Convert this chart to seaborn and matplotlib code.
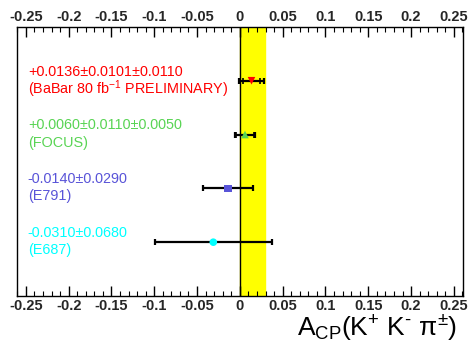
import numpy as np
import pandas as pd
import matplotlib
matplotlib.use('Agg')
import matplotlib.pyplot as plt
from matplotlib.ticker import MultipleLocator
import seaborn as sns

# measurements, top to bottom
experiments = ['BaBar', 'FOCUS', 'E791', 'E687']
acp = [0.0136, 0.0060, -0.0140, -0.0310]
stat = [0.0101, 0.0110, 0.0290, 0.0680]
syst = [0.0110, 0.0050, 0.0, 0.0]
value_text = ['+0.0136\u00b10.0101\u00b10.0110', '+0.0060\u00b10.0110\u00b10.0050',
              '-0.0140\u00b10.0290', '-0.0310\u00b10.0680']
name_text = [r'(BaBar 80 fb$^{-1}$ PRELIMINARY)', '(FOCUS)', '(E791)', '(E687)']
ypos = [4, 3, 2, 1]
colors = ['#ff0000', '#59d454', '#5954d8', '#00ffff']
markers = ['v', '^', 's', 'o']
band = (0.0, 0.029)

sns.set_theme(style='ticks')
plt.rcParams['font.family'] = ['Liberation Sans', 'DejaVu Sans']
plt.rcParams['mathtext.fontset'] = 'custom'
plt.rcParams['mathtext.rm'] = 'Liberation Sans'
plt.rcParams['mathtext.it'] = 'Liberation Sans'
plt.rcParams['mathtext.default'] = 'regular'

df = pd.DataFrame({'exp': experiments, 'acp': acp, 'stat': stat, 'syst': syst, 'y': ypos})
df['tot'] = np.sqrt(df['stat']**2 + df['syst']**2)

fig = plt.figure(figsize=(4.68, 3.45), dpi=100)
ax = fig.add_axes([0.036, 0.142, 0.953, 0.78])

ax.axvspan(band[0], band[1], color='#ffff00', zorder=0)
ax.axvline(0, color='black', lw=1.0, zorder=1)

# total errors with caps, stat errors as inner ticks
ax.errorbar(df['acp'], df['y'], xerr=df['tot'], fmt='none', ecolor='black',
            elinewidth=1.6, capsize=2.5, capthick=1.6, zorder=2)
has_sys = df[df['syst'] > 0]
ax.errorbar(has_sys['acp'], has_sys['y'], xerr=has_sys['stat'], fmt='none', ecolor='black',
            elinewidth=0, capsize=2.0, capthick=1.2, zorder=2)

sns.scatterplot(data=df, x='acp', y='y', hue='exp', style='exp', palette=colors,
                markers=markers, s=30, edgecolor='none', legend=False, ax=ax, zorder=3)

for i in range(len(experiments)):
    ax.text(-0.2477, ypos[i] + 0.17, value_text[i], color=colors[i], fontsize=10.4, va='center')
    ax.text(-0.2477, ypos[i] - 0.15, name_text[i], color=colors[i], fontsize=10.4, va='center')

ax.set_xlim(-0.2605, 0.2605)
ax.set_ylim(0, 5)
ax.set_yticks([])
ax.set_ylabel('')
ax.xaxis.set_major_locator(MultipleLocator(0.05))
ax.xaxis.set_minor_locator(MultipleLocator(0.01))
ax.tick_params(axis='x', which='both', direction='in', top=True, bottom=True,
               labeltop=True, labelbottom=True, color='black')
ax.tick_params(axis='x', which='major', length=7, width=1, labelsize=10.5, pad=2)
ax.tick_params(axis='x', which='minor', length=3.5, width=0.8)
ax.set_xticks(np.arange(-0.25, 0.2501, 0.05))
ax.set_xticklabels(['-0.25', '-0.2', '-0.15', '-0.1', '-0.05', '0',
                    '0.05', '0.1', '0.15', '0.2', '0.25'], fontweight='bold')
for lab in ax.get_xticklabels(which='both'):
    lab.set_fontweight('bold')
for s in ax.spines.values():
    s.set_color('black')
    s.set_linewidth(1.0)

ax.set_xlabel(r'$A_{CP}(K^{+}\ K^{\text{-}}\ \pi^{\pm})$', fontsize=19, color='black')
ax.xaxis.set_label_coords(0.987, -0.06)
ax.xaxis.label.set_horizontalalignment('right')
ax.xaxis.label.set_verticalalignment('top')

fig.savefig('out.png', dpi=100)
